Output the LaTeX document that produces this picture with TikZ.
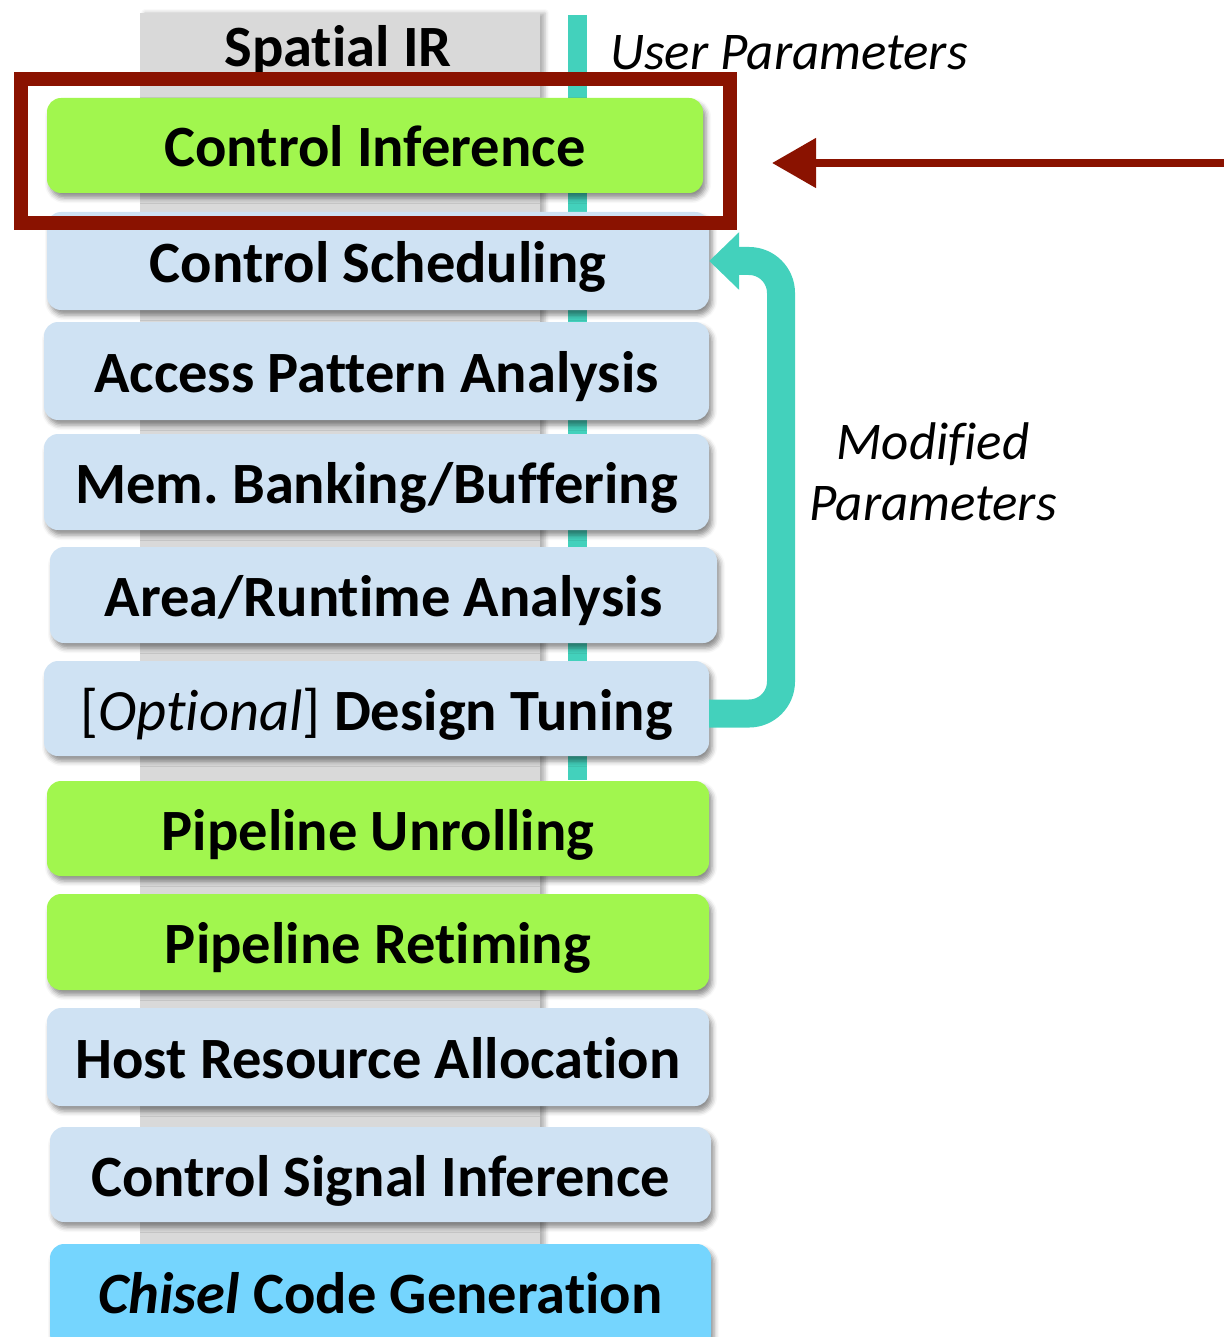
\documentclass[tikz,border=0pt]{standalone}
\usepackage{fontspec}
\setmainfont{Carlito}[Ligatures=NoCommon]
\usetikzlibrary{arrows.meta,shadows.blur}
\frenchspacing
\definecolor{stgreen}{HTML}{A1F64E}
\definecolor{stblue}{HTML}{CFE2F3}
\definecolor{stcyan}{HTML}{75D5FE}
\definecolor{irgray}{HTML}{D9D9D9}
\definecolor{fbteal}{HTML}{43D1BC}
\definecolor{darkred}{HTML}{8A1200}
\tikzset{
  stage/.style={rectangle, rounded corners=14pt, draw=none, inner sep=0pt,
    font=\fontsize{58.5}{62}\selectfont\bfseries, text height=44pt, text depth=1pt,
    blur shadow={shadow xshift=3pt, shadow yshift=-5pt, shadow blur radius=5pt, shadow opacity=45}},
  column/.style={rectangle, draw=none, fill=irgray, inner sep=0pt,
    blur shadow={shadow xshift=5pt, shadow yshift=0pt, shadow blur radius=4pt, shadow opacity=30}},
  tealline/.style={draw=fbteal, line width=19pt},
  fb/.style={draw=fbteal, line width=28pt, rounded corners=32pt,
    -{Triangle[length=30pt,width=56pt]}},
  redframe/.style={rectangle, draw=darkred, line width=14pt, inner sep=0pt, fill=none},
  redarrow/.style={draw=darkred, line width=8pt, -{Triangle[length=44pt,width=48pt]}},
  note/.style={font=\fontsize{53}{61}\selectfont\itshape, inner sep=0pt}
}
\newcommand{\stagebox}[7]{%
  \node[stage, fill=#6, minimum width=#3pt-#2pt, minimum height=#5pt-#4pt]
    (#1) at ({(#2+#3)/2},{(#4+#5)/2}) {#7};}
\begin{document}
\begin{tikzpicture}[x=1pt,y=-1pt]
\useasboundingbox (0,0) rectangle (1223,1337);
% gray Spatial IR column
\node[column, minimum width=400pt, minimum height=1340pt] (col) at (340,683) {};
\node[font=\fontsize{58.5}{62}\selectfont\bfseries, inner sep=0pt, text height=44pt, text depth=1pt] (ir) at (338,45) {Spatial IR};
% teal vertical line
\coordinate (vt) at (577,15);
\coordinate (vb) at (577,780);
\draw[tealline] (vt) -- (vb);
% stages
\stagebox{b1}{47}{703}{98}{193}{stgreen}{Control Inference}
\stagebox{b2}{47}{709}{212}{310}{stblue}{Control Scheduling}
\stagebox{b3}{44}{709}{322}{420}{stblue}{Access Pattern Analysis}
\stagebox{b4}{44}{709}{434}{530}{stblue}{Mem. Banking/Buffering}
\stagebox{b5}{50}{717}{547}{643}{stblue}{Area/Runtime Analysis}
\stagebox{b6}{44}{709}{661}{756}{stblue}{{\mdseries[\textit{Optional}]} Design Tuning}
\stagebox{b7}{47}{709}{781}{876}{stgreen}{Pipeline Unrolling}
\stagebox{b8}{47}{709}{894}{990}{stgreen}{Pipeline Retiming}
\stagebox{b9}{47}{709}{1008}{1106}{stblue}{Host Resource Allocation}
\stagebox{b10}{50}{711}{1127}{1222}{stblue}{Control Signal Inference}
\node[stage, fill=stcyan, minimum width=661pt, minimum height=104pt]
  (b11) at (380.5,1296) {\raisebox{4pt}{\textit{Chisel} Code Generation}};
% labels
\node[note, anchor=west] (up) at (610,53) {User Parameters};
\node[note, align=center] (mp) at (933,472) {Modified\\Parameters};
% feedback arrow
\coordinate (fbx) at (781,0);
\draw[fb] ([yshift=-5pt]b6.east) -- ([yshift=-5pt]b6.east -| fbx) -- (b2.east -| fbx) -- (b2.east);
% red highlight frame and arrow
\node[redframe, minimum width=709pt, minimum height=144pt] (frame) at (375.5,151) {};
\coordinate (rs) at (1230,163);
\coordinate (rt) at (772,163);
\draw[redarrow] (rs) -- (rt);
\end{tikzpicture}
\end{document}
